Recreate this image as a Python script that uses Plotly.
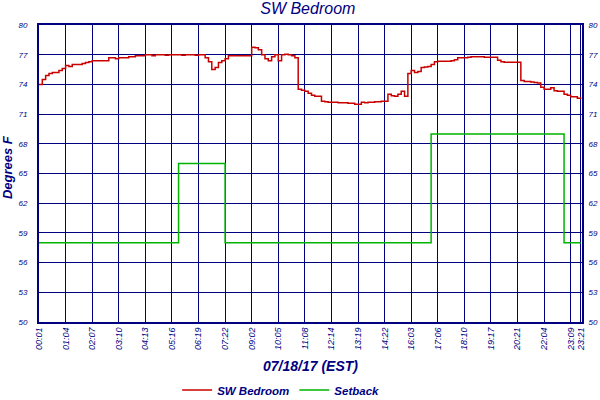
import plotly.graph_objects as go

# one reading every ~8 minutes-ish; a tick every 8 readings, the last reading is index 163
tick_index = [0, 8, 16, 24, 32, 40, 48, 56, 64, 72, 80,
              88, 96, 104, 112, 120, 128, 136, 144, 152, 160, 163]
tick_labels = ["00:01", "01:04", "02:07", "03:10", "04:13", "05:16", "06:19", "07:22",
               "09:02", "10:05", "11:08", "12:14", "13:19", "14:22", "16:03", "17:06",
               "18:10", "19:17", "20:21", "22:04", "23:09", "23:21"]

temp_ticks = [50, 53, 56, 59, 62, 65, 68, 71, 74, 77, 80]

# bedroom temperature (deg F), one row per tick interval
bedroom = [
    74.0, 74.5, 74.9, 75.1, 75.2, 75.2, 75.4, 75.6,
    75.9, 75.8, 76.0, 76.0, 76.0, 76.1, 76.2, 76.3,
    76.4, 76.4, 76.4, 76.4, 76.4, 76.7, 76.7, 76.6,
    76.7, 76.7, 76.7, 76.8, 76.8, 76.9, 76.9, 76.9,
    77.0, 77.0, 76.9, 77.0, 77.0, 77.0, 76.95, 77.0,
    77.0, 77.0, 77.0, 76.95, 77.0, 77.0, 77.0, 76.95,
    77.0, 77.0, 76.7, 76.3, 75.5, 75.7, 76.2, 76.4,
    76.6, 76.9, 76.9, 76.9, 76.9, 76.9, 76.9, 76.9,
    77.75, 77.7, 77.5, 77.0, 76.6, 76.4, 76.8, 77.0,
    76.4, 77.0, 77.05, 77.0, 76.9, 76.7, 73.5, 73.4,
    73.3, 73.1, 72.9, 72.8, 72.8, 72.3, 72.25, 72.2,
    72.2, 72.2, 72.15, 72.15, 72.15, 72.1, 72.1, 72.0,
    72.0, 72.2, 72.15, 72.2, 72.2, 72.25, 72.25, 72.3,
    72.3, 73.0, 72.85, 72.8, 73.0, 73.3, 72.8, 75.1,
    75.4, 75.2, 75.3, 75.7, 75.75, 75.8, 76.0, 76.3,
    76.35, 76.35, 76.35, 76.35, 76.4, 76.5, 76.7, 76.7,
    76.7, 76.75, 76.8, 76.8, 76.8, 76.8, 76.75, 76.75,
    76.75, 76.75, 76.45, 76.3, 76.25, 76.25, 76.25, 76.25,
    76.25, 74.4, 74.3, 74.3, 74.25, 74.2, 74.15, 73.7,
    73.5, 73.5, 73.65, 73.35, 73.3, 73.3, 73.0, 72.9,
    72.75, 72.75, 72.6, 72.7,
]

# thermostat setback (deg F)
setback = [
    58, 58, 58, 58, 58, 58, 58, 58,
    58, 58, 58, 58, 58, 58, 58, 58,
    58, 58, 58, 58, 58, 58, 58, 58,
    58, 58, 58, 58, 58, 58, 58, 58,
    58, 58, 58, 58, 58, 58, 58, 58,
    58, 58, 66, 66, 66, 66, 66, 66,
    66, 66, 66, 66, 66, 66, 66, 66,
    58, 58, 58, 58, 58, 58, 58, 58,
    58, 58, 58, 58, 58, 58, 58, 58,
    58, 58, 58, 58, 58, 58, 58, 58,
    58, 58, 58, 58, 58, 58, 58, 58,
    58, 58, 58, 58, 58, 58, 58, 58,
    58, 58, 58, 58, 58, 58, 58, 58,
    58, 58, 58, 58, 58, 58, 58, 58,
    58, 58, 58, 58, 58, 58, 69, 69,
    69, 69, 69, 69, 69, 69, 69, 69,
    69, 69, 69, 69, 69, 69, 69, 69,
    69, 69, 69, 69, 69, 69, 69, 69,
    69, 69, 69, 69, 69, 69, 69, 69,
    69, 69, 69, 69, 69, 69, 58, 58,
    58, 58, 58, 58,
]

navy = "#000080"
idx = list(range(len(bedroom)))

fig = go.Figure()

fig.add_trace(go.Scatter(
    x=idx, y=bedroom, name="SW Bedroom", mode="lines",
    line=dict(color="#c80000", width=1.5, shape="hv"),
))
fig.add_trace(go.Scatter(
    x=idx, y=setback, name="Setback", mode="lines", yaxis="y2",
    line=dict(color="#00b400", width=1.5, shape="hv"),
))

axis_common = dict(
    range=[50, 80], tickmode="array", tickvals=temp_ticks,
    showline=True, linecolor=navy, linewidth=2, ticks="",
    tickfont=dict(size=8, color=navy), zeroline=False, automargin=False,
)

fig.update_layout(
    width=600, height=400,
    margin=dict(l=39, r=18, t=25, b=78, autoexpand=False),
    paper_bgcolor="white", plot_bgcolor="white",
    font=dict(family="Liberation Sans", color=navy, style="italic"),
    title=dict(text="SW Bedroom", x=0.513, xanchor="center", y=0.978, yanchor="middle",
               font=dict(size=16, color=navy)),
    xaxis=dict(
        range=[0, 163.4], tickmode="array", tickvals=tick_index, ticktext=tick_labels,
        tickangle=-90, tickfont=dict(size=9, color=navy), ticks="",
        showgrid=True, gridcolor=navy, gridwidth=1,
        showline=True, linecolor=navy, linewidth=2, mirror=True, zeroline=False,
        automargin=False,
    ),
    yaxis=dict(**axis_common, side="left", showgrid=True, gridcolor=navy, gridwidth=1,
               ticklabelstandoff=8),
    yaxis2=dict(**axis_common, side="right", overlaying="y", showgrid=False,
                ticklabelstandoff=3),
    legend=dict(
        orientation="h", x=0.445, xanchor="center", y=-0.229, yanchor="middle",
        font=dict(size=11.5, weight="bold", color=navy), bgcolor="rgba(0,0,0,0)",
    ),
    showlegend=True,
)

# axis titles as annotations so they sit where the original puts them
fig.add_annotation(text="07/18/17 (EST)", xref="paper", yref="paper", x=0.5, y=-0.148,
                   xanchor="center", yanchor="middle", showarrow=False,
                   font=dict(size=14, weight="bold", color=navy))
fig.add_annotation(text="Degrees F", xref="paper", yref="paper", x=-0.058, y=0.52,
                   xanchor="center", yanchor="middle", textangle=-90, showarrow=False,
                   font=dict(size=13, weight="bold", color=navy))

# the page's default body margin would push the 600x400 figure off the window
fig.write_html("out.html", config={"displayModeBar": False},
               post_script="document.body.style.margin = '0';")
